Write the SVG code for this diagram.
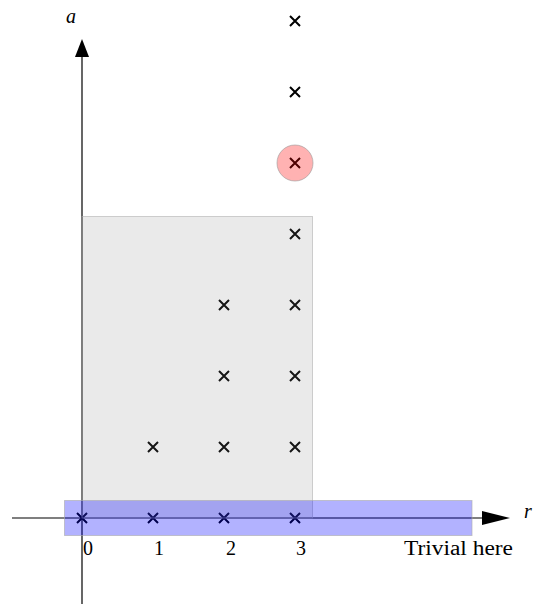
<svg xmlns="http://www.w3.org/2000/svg" width="533" height="604" viewBox="0 0 533 604">
<style>
.x{stroke:#000;stroke-width:2;fill:none}
.ax{stroke:#000;stroke-width:1.2;fill:none}
.t{font-family:"Liberation Serif",serif;font-size:20px;fill:#000}
.ti{font-family:"Liberation Serif",serif;font-size:20px;font-style:italic;fill:#000}
</style>
<defs>
<path id="c" d="M-5,-5L5,5M-5,5L5,-5"/>
</defs>
<rect width="533" height="604" fill="#fff"/>
<g id="axes">
<line class="ax" x1="12" y1="518" x2="490" y2="518"/>
<polygon points="510,518 482,511 482,525" fill="#000"/>
<line class="ax" x1="82" y1="604" x2="82" y2="52"/>
<polygon points="82,39 75,57 89,57" fill="#000"/>
<text class="ti" x="66" y="23">a</text>
<text class="ti" x="524" y="518">r</text>
</g>
<g id="points" class="x">
<use href="#c" x="82" y="518"/>
<use href="#c" x="153" y="518"/>
<use href="#c" x="224" y="518"/>
<use href="#c" x="295" y="518"/>
<use href="#c" x="153" y="447"/>
<use href="#c" x="224" y="447"/>
<use href="#c" x="295" y="447"/>
<use href="#c" x="224" y="376"/>
<use href="#c" x="295" y="376"/>
<use href="#c" x="224" y="305"/>
<use href="#c" x="295" y="305"/>
<use href="#c" x="295" y="234"/>
<use href="#c" x="295" y="163"/>
<use href="#c" x="295" y="92"/>
<use href="#c" x="295" y="21"/>
</g>
<g id="gray-region">
<rect x="82" y="216.5" width="230.5" height="301.5" fill="#808080" fill-opacity="0.17" stroke="#b0b0b0" stroke-opacity="0.6" stroke-width="1"/>
</g>
<g id="red-circle">
<circle cx="295" cy="163" r="18" fill="#ff0000" fill-opacity="0.3" stroke="#999" stroke-opacity="0.6" stroke-width="1"/>
</g>
<g id="blue-region">
<rect x="64.5" y="500.5" width="407.5" height="35" fill="#0000ff" fill-opacity="0.3" stroke="#aaa" stroke-opacity="0.6" stroke-width="1"/>
</g>
<g id="labels">
<text class="t" x="88" y="555" text-anchor="middle">0</text>
<text class="t" x="159" y="555" text-anchor="middle">1</text>
<text class="t" x="231" y="555" text-anchor="middle">2</text>
<text class="t" x="301" y="555" text-anchor="middle">3</text>
<text class="t" x="404" y="555" textLength="109" lengthAdjust="spacingAndGlyphs">Trivial here</text>
</g>
</svg>
